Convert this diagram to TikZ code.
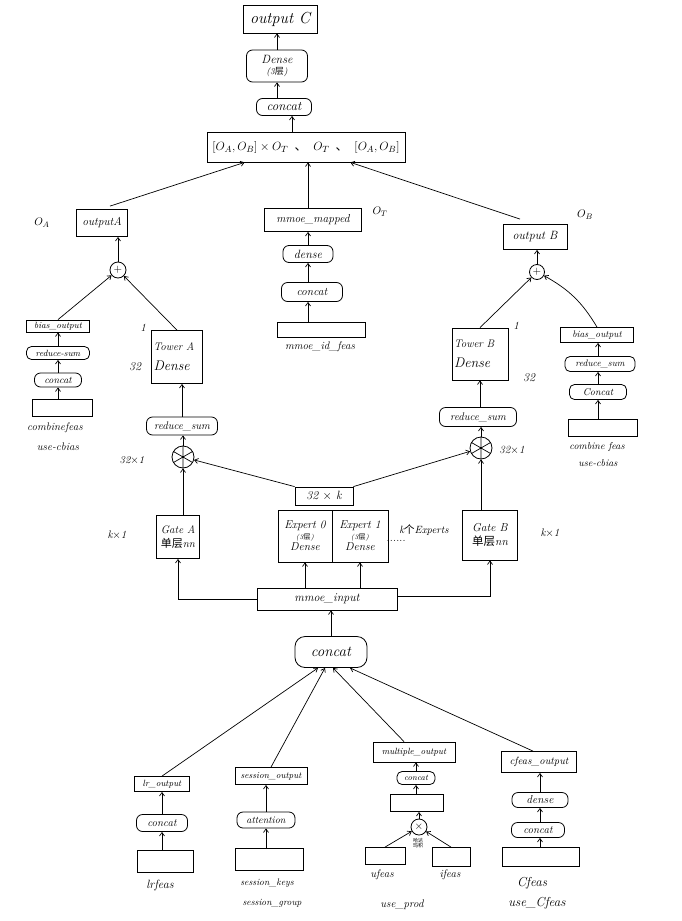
\documentclass[tikz,border=0pt]{standalone}
\usepackage{fontspec}
\newfontfamily\cjk{Noto Sans CJK SC}
\usetikzlibrary{arrows.meta,calc}
\newcommand{\hfs}[1]{\fontsize{#1}{#1}\selectfont\itshape}
\begin{document}
\begin{tikzpicture}[x=1pt,y=-1pt,
  every node/.style={font=\hfs{10.5}},
  bx/.style={draw, line width=0.8pt, inner sep=0pt, align=center},
  rb/.style={bx, rounded corners=6pt},
  lb/.style={inner sep=0pt, align=center},
  arr/.style={line width=0.7pt, -{Straight Barb[length=3.5pt,width=5pt]}},
  circ/.style={draw, circle, line width=0.8pt, inner sep=0pt},
]
\useasboundingbox (0,0) rectangle (682,921);

% ---------- top ----------
\node[bx, minimum width=74, minimum height=28, font=\hfs{16}] (oc) at (280,19) {output C};
\node[rb, minimum width=61, minimum height=32, font=\hfs{12}] (d8) at (277,66) {Dense\\[-1pt]{\fontsize{9}{9}\selectfont(3{\cjk 层})}};
\node[rb, minimum width=55, minimum height=17, font=\hfs{13}] (c1) at (284,107) {concat};
\node[bx, minimum width=198, minimum height=30, font=\fontsize{12.5}{14}\selectfont] (top) at (306,147) {$[O_A,O_B]\times O_T$\enspace{\cjk 、}\enspace$O_T$\enspace{\cjk 、}\enspace$[O_A,O_B]$};

% ---------- middle outputs ----------
\node[lb, font=\fontsize{11}{11}\selectfont] (lOA) at (42,223) {$O_A$};
\node[bx, minimum width=51, minimum height=27, font=\hfs{11.5}] (oA) at (102,223) {outputA};
\node[bx, minimum width=97, minimum height=23, font=\hfs{11.5}] (mm) at (313,220) {mmoe\_mapped};
\node[lb, font=\fontsize{11}{11}\selectfont] (lOT) at (380,212) {$O_T$};
\node[rb, minimum width=50, minimum height=17, font=\hfs{12}] (dn) at (308,254) {dense};
\node[rb, minimum width=61, minimum height=19, font=\hfs{11.5}] (c2) at (312,292) {concat};
\node[bx, minimum width=88, minimum height=15] (idr) at (321,330) {};
\node[lb, font=\hfs{11}] (idl) at (320,347) {mmoe\_id\_feas};
\node[lb, font=\fontsize{11}{11}\selectfont] (lOB) at (585,215) {$O_B$};
\node[bx, minimum width=64, minimum height=25, font=\hfs{12}] (oB) at (535,237) {output B};
\node[circ, minimum size=16] (pA) at (118,270) {$+$};
\node[circ, minimum size=15] (pB) at (537,272) {$+$};

% ---------- left bias stack ----------
\node[bx, minimum width=63, minimum height=12, font=\hfs{9}] (bL) at (58,326) {bias\_output};
\node[rb, rounded corners=5pt, minimum width=63, minimum height=13, font=\hfs{9}] (rL) at (58,353) {reduce-sum};
\node[rb, minimum width=47, minimum height=14, font=\hfs{10}] (cL) at (58,380) {concat};
\node[bx, minimum width=60, minimum height=17] (xL) at (62,408) {};
\node[lb, font=\hfs{11}] (lcfL) at (55,428) {combinefeas};
\node[lb, font=\hfs{11}] (lucL) at (58,447) {use-cbias};

% ---------- tower A side ----------
\node[bx, minimum width=51, minimum height=53, align=left, text width=47, font=\hfs{11}] (tA) at (177,357) {Tower A\\[9pt]{\hfs{14}Dense}};
\node[lb, font=\hfs{11}] (l1A) at (143,328) {1};
\node[lb, font=\hfs{12}] (l32A) at (135,367) {32};
\node[rb, minimum width=71, minimum height=18, font=\hfs{11}] (rA) at (182,426) {reduce\_sum};
\node[circ, minimum size=22] (sA) at (183,457) {};
\draw[line width=0.7pt] (sA.90) -- (sA.270) (sA.30) -- (sA.210) (sA.150) -- (sA.330);
\node[lb] (l321A) at (132,460) {32$\times$1};
\node[bx, minimum width=43, minimum height=43, align=left, font=\hfs{11}] (gA) at (178,537) {Gate A\\[3pt]{\cjk 单层}nn};
\node[lb, font=\hfs{11}] (lkA) at (117,535) {k$\times$1};

% ---------- experts ----------
\node[bx, minimum width=58, minimum height=18, font=\hfs{12}] (k32) at (324,496) {32 $\times$ k};
\node[bx, minimum width=54, minimum height=52, font=\hfs{11.5}] (e0) at (305,536) {Expert 0\\[-1pt]{\fontsize{7}{8}\selectfont(3{\cjk 层})}\\Dense};
\node[bx, minimum width=56, minimum height=52, font=\hfs{11.5}] (e1) at (360,536) {Expert 1\\[-1pt]{\fontsize{7}{8}\selectfont(3{\cjk 层})}\\Dense};
\node[lb] (dots) at (396,541) {......};
\node[lb, font=\hfs{10.5}] (kex) at (424,530) {k{\cjk 个}Experts};

% ---------- tower B side ----------
\node[bx, minimum width=55, minimum height=50, align=left, font=\hfs{11.5}] (gB) at (490,535) {Gate B\\[3pt]{\cjk 单层}nn};
\node[lb, font=\hfs{11}] (lkB) at (550,533) {k$\times$1};
\node[circ, minimum size=22] (sB) at (481,448) {};
\draw[line width=0.7pt] (sB.90) -- (sB.270) (sB.30) -- (sB.210) (sB.150) -- (sB.330);
\node[lb, font=\hfs{11}] (l321B) at (512,450) {32$\times$1};
\node[rb, minimum width=77, minimum height=19, font=\hfs{11}] (rB) at (478,417) {reduce\_sum};
\node[bx, minimum width=56, minimum height=52, align=left, text width=52, font=\hfs{11}] (tB) at (480,354) {Tower B\\[9pt]{\hfs{14}Dense}};
\node[lb, font=\hfs{11}] (l1B) at (516,326) {1};
\node[lb, font=\hfs{12}] (l32B) at (529,378) {32};

% ---------- right bias stack ----------
\node[bx, minimum width=73, minimum height=15, font=\hfs{9.5}] (bR) at (597,335) {bias\_output};
\node[rb, rounded corners=5pt, minimum width=70, minimum height=15, font=\hfs{9.5}] (rR) at (600,364) {reduce\_sum};
\node[rb, rounded corners=5pt, minimum width=57, minimum height=15, font=\hfs{10}] (cR) at (598,392) {Concat};
\node[bx, minimum width=69, minimum height=17] (xR) at (603,428) {};
\node[lb, font=\hfs{10}] (lcfR) at (597,447) {combine feas};
\node[lb, font=\hfs{10}] (lucR) at (598,463) {use-cbias};

% ---------- mmoe input ----------
\node[bx, minimum width=140, minimum height=22, font=\hfs{12}] (mi) at (327,599) {mmoe\_input};
\node[rb, rounded corners=10pt, minimum width=72, minimum height=31, font=\hfs{15}] (c3) at (331,652) {concat};

% ---------- bottom features ----------
\node[bx, minimum width=55, minimum height=15, font=\hfs{9}] (lro) at (162,784) {lr\_output};
\node[rb, minimum width=51, minimum height=17, font=\hfs{11}] (cLr) at (162,823) {concat};
\node[bx, minimum width=56, minimum height=22] (xLr) at (165,861) {};
\node[lb, font=\hfs{12}] (llr) at (160,885) {lrfeas};

\node[bx, minimum width=72, minimum height=17, font=\hfs{9}] (so) at (271,776) {session\_output};
\node[rb, minimum width=58, minimum height=16, font=\hfs{10}] (att) at (266,820) {attention};
\node[bx, minimum width=68, minimum height=22] (xS) at (269,859) {};
\node[lb, font=\hfs{9.5}] (lsk) at (267,883) {session\_keys};
\node[lb, font=\hfs{9.5}] (lsg) at (272,903) {session\_group};

\node[bx, minimum width=82, minimum height=20, font=\hfs{9}] (mo) at (414,752) {multiple\_output};
\node[rb, rounded corners=5pt, minimum width=38, minimum height=13, font=\hfs{8.5}] (cM) at (416,778) {concat};
\node[bx, minimum width=53, minimum height=17] (xM) at (417,803) {};
\node[circ, minimum size=16] (tm) at (419,827) {$\times$};
\node[bx, minimum width=40, minimum height=17] (xU) at (385,856) {};
\node[bx, minimum width=38, minimum height=19] (xI) at (451,857) {};
\node[lb, font={\cjk\fontsize{5}{5.5}\selectfont}] (hd) at (418,843) {哈达\\玛积};
\node[lb, font=\hfs{11}] (luf) at (382,875) {ufeas};
\node[lb, font=\hfs{11}] (lif) at (450,875) {ifeas};
\node[lb, font=\hfs{11}] (lup) at (402,905) {use\_prod};

\node[bx, minimum width=75, minimum height=21, font=\hfs{10.5}] (co) at (539,762) {cfeas\_output};
\node[rb, minimum width=56, minimum height=15, font=\hfs{11.5}] (dC) at (540,800) {dense};
\node[rb, minimum width=53, minimum height=15, font=\hfs{11}] (cC) at (538,830) {concat};
\node[bx, minimum width=77, minimum height=19] (xC) at (541,857) {};
\node[lb, font=\hfs{13}] (lcf) at (532,883) {Cfeas};
\node[lb, font=\hfs{13}] (lucf) at (537,903) {use\_Cfeas};

% ---------- helper coordinates ----------
\path ($(top.north)+(-14,0)$) coordinate (topn);
\path ($(c1.south)+(8,0)$) coordinate (c1s);
\path ($(oA.north)+(8,-3)$) coordinate (oAn);
\path ($(top.south west)+(38,0)$) coordinate (topsl);
\path ($(mm.north)+(-5,0)$) coordinate (mmn);
\path ($(oB.north)+(-15,-5)$) coordinate (oBn);
\path ($(top.south east)+(-55,0)$) coordinate (topsr);
\path ($(mi.east)+(0,-3)$) coordinate (mie);
\path ($(c3.south)+(-13,0)$) coordinate (c3a);
\path ($(c3.south)+(-6,0)$) coordinate (c3b);
\path ($(c3.south)+(2,0)$) coordinate (c3c);
\path ($(c3.south)+(19,0)$) coordinate (c3d);
\path ($(mo.north)+(-10,0)$) coordinate (mon);
\path ($(co.north)+(-6,0)$) coordinate (con);

% ---------- connectors ----------
\draw[arr] (d8.north) -- (d8.north |- oc.south);
\draw[arr] (d8.south |- c1.north) -- (d8.south);
\draw[arr] (topn) -- (c1s);
\draw[arr] (oAn) -- (topsl);
\draw[arr] (mmn) -- (mmn |- top.south);
\draw[arr] (oBn) -- (topsr);

\draw[arr] (pA.north) -- (pA.north |- oA.south);
\draw[arr] (bL.north) -- (pA);
\draw[arr] (tA.north) -- (pA);
\draw[arr] (rL.north) -- (bL.south);
\draw[arr] (cL.north) -- (cL.north |- rL.south);
\draw[arr] (cL.south |- xL.north) -- (cL.south);
\draw[arr] (rA.north) -- (rA.north |- tA.south);
\draw[arr] (sA.north) -- (sA.north |- rA.south);
\draw[arr] (sA.south |- gA.north) -- (sA.south);
\draw[arr] (k32.north west) -- (sA);
\draw[arr] (k32.north east) -- (sB);
\draw[arr] (sB.north) -- (sB.north |- rB.south);
\draw[arr] (tB.south |- rB.north) -- (tB.south);
\draw[arr] (sB.south |- gB.north) -- (sB.south);
\draw[arr] (tB.north) -- (pB);
\draw[arr] (bR.north) to[bend right=15] (pB);
\draw[arr] (pB.north) -- (pB.north |- oB.south);
\draw[arr] (cR.north |- rR.north) -- (cR.north |- bR.south);
\draw[arr] (cR.north) -- (cR.north |- rR.south);
\draw[arr] (cR.south |- xR.north) -- (cR.south);

\draw[arr] (dn.north) -- (dn.north |- mm.south);
\draw[arr] (dn.south |- c2.north) -- (dn.south);
\draw[arr] (dn.south |- idr.north) -- (dn.south |- c2.south);

\draw[arr] (mi.west) -| (gA.south);
\draw[arr] (mie) -| (gB.south);
\draw[arr] (e0.south |- mi.north) -- (e0.south);
\draw[arr] (e1.south |- mi.north) -- (e1.south);
\draw[arr] (c3.north) -- (c3.north |- mi.south);

\draw[arr] (lro.north) -- (c3a);
\draw[arr] (so.north) -- (c3b);
\draw[arr] (mon) -- (c3c);
\draw[arr] (con) -- (c3d);

\draw[arr] (cLr.north) -- (cLr.north |- lro.south);
\draw[arr] (cLr.south |- xLr.north) -- (cLr.south);
\draw[arr] (att.north) -- (att.north |- so.south);
\draw[arr] (att.south |- xS.north) -- (att.south);
\draw[arr] (cM.north) -- (cM.north |- mo.south);
\draw[arr] (cM.south |- xM.north) -- (cM.south);
\draw[arr] (tm.north) -- (tm.north |- xM.south);
\draw[arr] (xU.north) -- (tm);
\draw[arr] (xI.north) -- (tm);
\draw[arr] (dC.north) -- (dC.north |- co.south);
\draw[arr] (dC.south |- cC.north) -- (dC.south);
\draw[arr] (dC.south |- xC.north) -- (dC.south |- cC.south);
\end{tikzpicture}
\end{document}
